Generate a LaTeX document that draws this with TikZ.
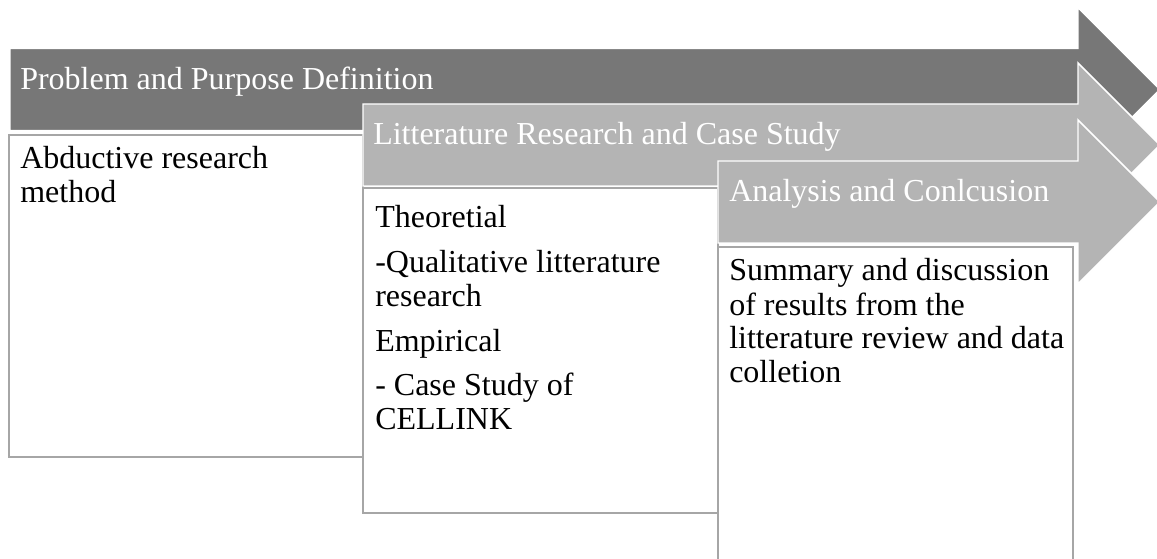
\documentclass[tikz,border=0pt]{standalone}
\usepackage{fontspec}
\setmainfont{Liberation Serif}
\definecolor{phasedark}{RGB}{119,119,119}
\definecolor{phaselight}{RGB}{180,180,180}
\definecolor{boxline}{RGB}{166,166,166}
\tikzset{
    phasearrow/.style={fill=#1, draw=white, line width=1.1pt},
    phasebox/.style={fill=white, draw=boxline, line width=1.9pt},
    phaselabel/.style={anchor=base west, inner sep=0pt, text=white, font=\fontsize{24pt}{25.5pt}\selectfont},
    boxtext/.style={anchor=base west, inner sep=0pt, align=left, font=\fontsize{24pt}{25.5pt}\selectfont}
}
\begin{document}
\begin{tikzpicture}[x=0.75pt, y=-0.75pt]
        \useasboundingbox (0,0) rectangle (1157,559);

        % Problem and Purpose
        % Define the arrow
        \filldraw[phasearrow=phasedark] (10,48.5) -- (1078,48.5) -- (1078,7.5) -- (1160,89.5) -- (1078,171.5) -- (1078,130.5) -- (10,130.5) -- cycle;
        \node[phaselabel] (probdef) at (20,90) {Problem and Purpose Definition};
        % Define the box (text placed by its last line)
        \draw[phasebox] (9,135) rectangle (363,457);
        \node[boxtext] (abduct) at (20,203) {Abductive research\\method};

        % Litterature
        % Define the arrow
        \filldraw[phasearrow=phaselight] (363,104) -- (1078,104) -- (1078,63) -- (1160,145) -- (1078,227) -- (1078,186) -- (363,186) -- cycle;
        \node[phaselabel] (litres) at (373,145) {Litterature Research and Case Study};
        % Define the box
        \draw[phasebox] (363,188) rectangle (718,513);
        \node[boxtext] (theory) at (375,430) {Theoretial\\[8pt]-Qualitative litterature\\research\\[8pt]Empirical\\[8pt]- Case Study of\\CELLINK};

        % Analysis
        % Define the arrow
        \filldraw[phasearrow=phaselight] (718,161) -- (1078,161) -- (1078,120) -- (1160,202) -- (1078,284) -- (1078,243) -- (718,243) -- cycle;
        \node[phaselabel] (anaconc) at (729,202) {Analysis and Conlcusion};
        % Define the box
        \draw[phasebox] (718,247) rectangle (1073,580);
        \node[boxtext] (summary) at (729,383) {Summary and discussion\\of results from the\\litterature review and data\\colletion};
    \end{tikzpicture}
\end{document}
